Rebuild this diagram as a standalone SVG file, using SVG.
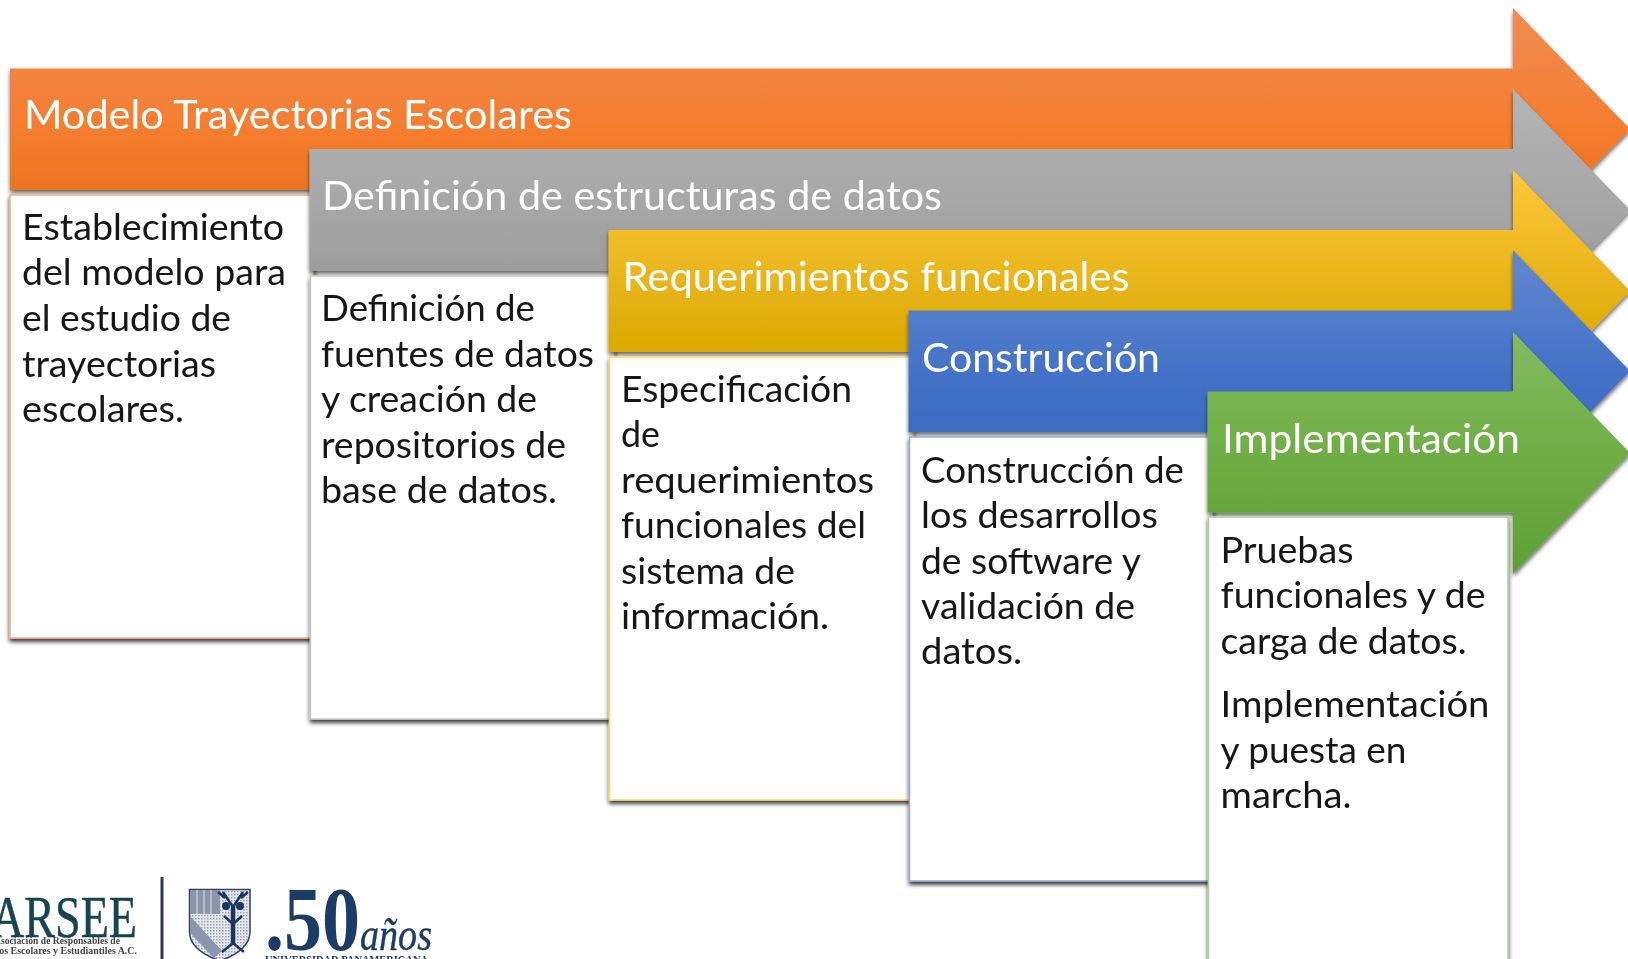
<svg xmlns="http://www.w3.org/2000/svg" width="1628" height="959" viewBox="0 0 1628 959">
<style>
.t{font-family:Lato,"Liberation Sans",sans-serif;font-size:41px;fill:#fff;filter:url(#txt)}
.b{font-family:Lato,"Liberation Sans",sans-serif;font-size:37.500px;fill:#161616;filter:url(#txt)}
.box{fill:#fff;stroke-width:1.500;filter:url(#s2)}
.ar{filter:url(#s)}
.ser{font-family:"Liberation Serif",serif}
.soft{filter:url(#soft)}
</style>
<defs>
<filter id="s" x="-5%" y="-5%" width="110%" height="112%"><feGaussianBlur in="SourceAlpha" stdDeviation="2.2"/><feOffset dy="3"/><feComponentTransfer><feFuncA type="linear" slope=".6"/></feComponentTransfer><feMerge><feMergeNode/><feMergeNode in="SourceGraphic"/></feMerge></filter>
<filter id="s2" x="-5%" y="-5%" width="110%" height="112%"><feGaussianBlur in="SourceAlpha" stdDeviation="2"/><feOffset dy="2.500"/><feComponentTransfer><feFuncA type="linear" slope=".8"/></feComponentTransfer><feMerge><feMergeNode/><feMergeNode in="SourceGraphic"/></feMerge></filter>
<filter id="soft" x="-5%" y="-5%" width="110%" height="110%"><feGaussianBlur stdDeviation=".6"/></filter>
<filter id="txt" x="-3%" y="-10%" width="106%" height="120%"><feGaussianBlur stdDeviation=".45"/></filter>
<linearGradient id="g1" x1="0" y1="0" x2="0" y2="1"><stop offset="0" stop-color="#f18c55"/><stop offset=".5" stop-color="#f57d2e"/><stop offset="1" stop-color="#e36c15"/></linearGradient>
<linearGradient id="g2" x1="0" y1="0" x2="0" y2="1"><stop offset="0" stop-color="#b4b4b4"/><stop offset=".5" stop-color="#a6a6a6"/><stop offset="1" stop-color="#959595"/></linearGradient>
<linearGradient id="g3" x1="0" y1="0" x2="0" y2="1"><stop offset="0" stop-color="#ffc738"/><stop offset=".5" stop-color="#e6b318"/><stop offset=".72" stop-color="#dcab00"/><stop offset="1" stop-color="#d8a800"/></linearGradient>
<linearGradient id="g4" x1="0" y1="0" x2="0" y2="1"><stop offset="0" stop-color="#6388cf"/><stop offset=".5" stop-color="#4472c8"/><stop offset="1" stop-color="#3366bd"/></linearGradient>
<linearGradient id="g5" x1="0" y1="0" x2="0" y2="1"><stop offset="0" stop-color="#84bb62"/><stop offset=".5" stop-color="#6fae44"/><stop offset="1" stop-color="#5f9f36"/></linearGradient>
<pattern id="dots" width="3" height="3" patternUnits="userSpaceOnUse"><rect width="3" height="3" fill="#e6e8ec"/><rect width="1.500" height="1.500" fill="#9aa3b3"/></pattern>
</defs>
<rect width="1628" height="959" fill="#fff"/>
<g id="connectors"/>
<g id="stage1">
<path class="ar" fill="url(#g1)" d="M10 68.500H1513V8L1630 129L1513 250V190H10Z"/>
<rect class="box" x="10" y="195" width="304" height="443" stroke="#f4b183"/>
<text class="t" x="24" y="129" textLength="548" lengthAdjust="spacingAndGlyphs">Modelo Trayectorias Escolares</text>
<g class="b"><text x="22" y="240" textLength="262" lengthAdjust="spacingAndGlyphs">Establecimiento</text><text x="22" y="285" textLength="264" lengthAdjust="spacingAndGlyphs">del modelo para</text><text x="22" y="331" textLength="209" lengthAdjust="spacingAndGlyphs">el estudio de</text><text x="22" y="377" textLength="194" lengthAdjust="spacingAndGlyphs">trayectorias</text><text x="22" y="422" textLength="162" lengthAdjust="spacingAndGlyphs">escolares.</text></g>
</g>
<g id="stage2">
<path class="ar" fill="url(#g2)" d="M309.500 149H1513V89L1630 210L1513 331V271H309.500Z"/>
<rect class="box" x="310.500" y="276" width="304" height="443" stroke="#c9c9c9"/>
<text class="t" x="322" y="210" textLength="620" lengthAdjust="spacingAndGlyphs">Definición de estructuras de datos</text>
<g class="b"><text x="321" y="321" textLength="214" lengthAdjust="spacingAndGlyphs">Definición de</text><text x="321" y="367" textLength="273" lengthAdjust="spacingAndGlyphs">fuentes de datos</text><text x="321" y="412" textLength="216" lengthAdjust="spacingAndGlyphs">y creación de</text><text x="321" y="458" textLength="245" lengthAdjust="spacingAndGlyphs">repositorios de</text><text x="321" y="503" textLength="236" lengthAdjust="spacingAndGlyphs">base de datos.</text></g>
</g>
<g id="stage3">
<path class="ar" fill="url(#g3)" d="M608.500 230H1513V170L1630 291L1513 412V352H608.500Z"/>
<rect class="box" x="609.500" y="357" width="304" height="443" stroke="#ffd966"/>
<text class="t" x="622.500" y="291" textLength="507" lengthAdjust="spacingAndGlyphs">Requerimientos funcionales</text>
<g class="b"><text x="621" y="402" textLength="231" lengthAdjust="spacingAndGlyphs">Especificación</text><text x="621" y="447" textLength="39" lengthAdjust="spacingAndGlyphs">de</text><text x="621" y="493" textLength="253" lengthAdjust="spacingAndGlyphs">requerimientos</text><text x="621" y="538" textLength="245" lengthAdjust="spacingAndGlyphs">funcionales del</text><text x="621" y="584" textLength="174" lengthAdjust="spacingAndGlyphs">sistema de</text><text x="621" y="629" textLength="208" lengthAdjust="spacingAndGlyphs">información.</text></g>
</g>
<g id="stage4">
<path class="ar" fill="url(#g4)" d="M908.500 310.500H1513V250L1630 371L1513 492V432H908.500Z"/>
<rect class="box" x="909.500" y="437" width="304" height="444" stroke="#8faadc"/>
<text class="t" x="922" y="372" textLength="238" lengthAdjust="spacingAndGlyphs">Construcción</text>
<g class="b"><text x="921" y="483" textLength="263" lengthAdjust="spacingAndGlyphs">Construcción de</text><text x="921" y="528" textLength="237" lengthAdjust="spacingAndGlyphs">los desarrollos</text><text x="921" y="574" textLength="220" lengthAdjust="spacingAndGlyphs">de software y</text><text x="921" y="619" textLength="214" lengthAdjust="spacingAndGlyphs">validación de</text><text x="921" y="664" textLength="101" lengthAdjust="spacingAndGlyphs">datos.</text></g>
</g>
<g id="stage5">
<path class="ar" fill="url(#g5)" d="M1207.500 391.500H1513V332L1630 453L1513 574V512.500H1207.500Z"/>
<rect class="box" x="1208.500" y="517" width="299.500" height="460" stroke="#a9d18e"/>
<text class="t" x="1222" y="453" textLength="298" lengthAdjust="spacingAndGlyphs">Implementación</text>
<g class="b"><text x="1220.500" y="563" textLength="133" lengthAdjust="spacingAndGlyphs">Pruebas</text><text x="1220.500" y="608" textLength="265" lengthAdjust="spacingAndGlyphs">funcionales y de</text><text x="1220.500" y="654" textLength="246" lengthAdjust="spacingAndGlyphs">carga de datos.</text><text x="1220.500" y="717" textLength="269" lengthAdjust="spacingAndGlyphs">Implementación</text><text x="1220.500" y="763" textLength="186" lengthAdjust="spacingAndGlyphs">y puesta en</text><text x="1220.500" y="808" textLength="131" lengthAdjust="spacingAndGlyphs">marcha.</text></g>
</g>
<g id="logos" class="soft">
<text class="ser" x="-9" y="937" font-size="60" fill="#16444f" stroke="#16444f" stroke-width=".5" textLength="146" lengthAdjust="spacingAndGlyphs">ARSEE</text>
<text class="ser" x="-6" y="944" font-size="9.500" font-weight="bold" fill="#444" textLength="126" lengthAdjust="spacingAndGlyphs">Asociación de Responsables de</text>
<text class="ser" x="-30" y="954" font-size="9.500" font-weight="bold" fill="#444" textLength="167" lengthAdjust="spacingAndGlyphs">Servicios Escolares y Estudiantiles A.C.</text>
<rect x="160.500" y="877" width="3" height="82" fill="#2b3a55"/>
<path d="M189.500 889.500H250V932Q250 950 220 961Q189.500 950 189.500 932Z" fill="url(#dots)" stroke="#33425f" stroke-width="1.500"/>
<path d="M190 890H220V914H190Z" fill="#8c96ab"/>
<path d="M197 890V914M204 890V914M211 890V914" stroke="#c4c9d3" stroke-width="1.500"/>
<path d="M190 916L222 951L214 958L190 933Z" fill="#8c96ab"/>
<path d="M233 905V945" stroke="#1b3560" stroke-width="4.500" fill="none"/>
<path d="M223 892L233 907L243 892M225 898L218 892M241 898L248 892M224 916L233 924L242 916M222 952L233 943L244 952" fill="none" stroke="#1b3560" stroke-width="2.500"/>
<circle cx="226" cy="906" r="4" fill="#1b3560"/><circle cx="240" cy="906" r="4" fill="#1b3560"/>
<text class="ser" x="265" y="950" font-size="90" font-weight="bold" fill="#1d3a66" textLength="95" lengthAdjust="spacingAndGlyphs">.50</text>
<text class="ser" x="360" y="950" font-size="46" font-style="italic" fill="#1d3a66" stroke="#1d3a66" stroke-width=".4" textLength="72" lengthAdjust="spacingAndGlyphs">años</text>
<text class="ser" x="265" y="964" font-size="12" font-weight="bold" fill="#1d3a66" textLength="163" lengthAdjust="spacingAndGlyphs">UNIVERSIDAD PANAMERICANA</text>
</g>
</svg>
